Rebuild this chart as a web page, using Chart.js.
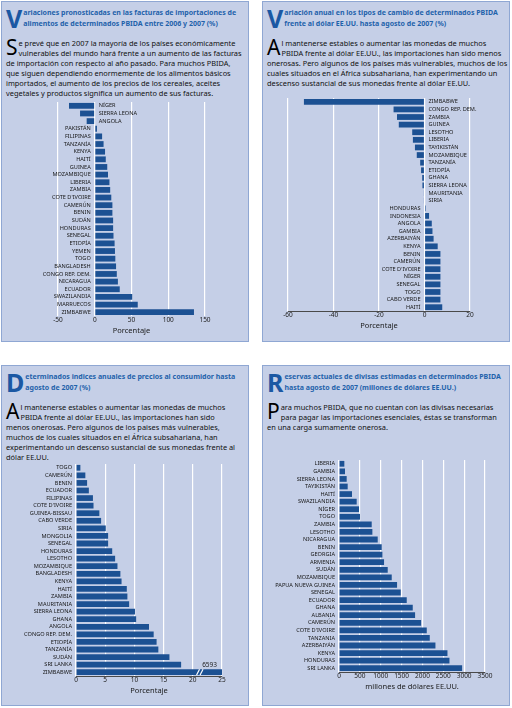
<!DOCTYPE html>
<html lang="es">
<head>
<meta charset="utf-8">
<script src="https://cdn.jsdelivr.net/npm/chart.js@4.4.0/dist/chart.umd.min.js"></script>
<style>
body{margin:0;width:512px;height:708px;background:#fff;position:relative;overflow:hidden;font-family:'Noto Sans',sans-serif}
.panel{position:absolute;width:248px;height:341px;background:#c5cfe7;border:1px solid #8fa7d3;box-sizing:border-box}
.ttl{position:absolute;left:4px;top:5px;color:#1f62ab;font-weight:bold;font-size:7px;line-height:11px;white-space:nowrap}
.ttl .dc{float:left;font-size:25px;line-height:21px;height:22px;color:#1b58a3;margin-right:1px;margin-top:1px}
.txt{position:absolute;left:4px;top:36px;color:#111;font-size:7.4px;line-height:10px;white-space:nowrap}
.txt .dc{float:left;font-size:21px;line-height:18px;height:19px;margin-right:1px;color:#000}
canvas{position:absolute}
</style>
</head>
<body>

<div class="panel" style="left:1px;top:1px">
  <div class="ttl"><span class="dc">V</span>ariaciones pronosticadas en las facturas de importaciones de<br>alimentos de determinados PBIDA entre 2006 y 2007 (%)</div>
  <div class="txt"><span class="dc">S</span>e prevé que en 2007 la mayoría de los países económicamente<br>vulnerables del mundo hará frente a un aumento de las facturas<br>de importación con respecto al año pasado. Para muchos PBIDA,<br>que siguen dependiendo enormemente de los alimentos básicos<br>importados, el aumento de los precios de los cereales, aceites<br>vegetales y productos significa un aumento de sus facturas.</div>
</div>

<div class="panel" style="left:262px;top:1px">
  <div class="ttl"><span class="dc">V</span>ariación anual en los tipos de cambio de determinados PBIDA<br>frente al dólar EE.UU. hasta agosto de 2007 (%)</div>
  <div class="txt"><span class="dc">A</span>l mantenerse estables o aumentar las monedas de muchos<br>PBIDA frente al dólar EE.UU., las importaciones han sido menos<br>onerosas. Pero algunos de los países más vulnerables, muchos de los<br>cuales situados en el África subsahariana, han experimentando un<br>descenso sustancial de sus monedas frente al dólar EE.UU.</div>
</div>

<div class="panel" style="left:1px;top:365px">
  <div class="ttl"><span class="dc">D</span>eterminados indices anuales de precios al consumidor hasta<br>agosto de 2007 (%)</div>
  <div class="txt"><span class="dc">A</span>l mantenerse estables o aumentar las monedas de muchos<br>PBIDA frente al dólar EE.UU., las importaciones han sido<br>menos onerosas. Pero algunos de los paises más vulnerables,<br>muchos de los cuales situados en el África subsahariana, han<br>experimentando un descenso sustancial de sus monedas frente al<br>dólar EE.UU.</div>
</div>

<div class="panel" style="left:262px;top:365px">
  <div class="ttl"><span class="dc">R</span>eservas actuales de divisas estimadas en determinados PBIDA<br>hasta agosto de 2007 (millones de dólares EE.UU.)</div>
  <div class="txt"><span class="dc">P</span>ara muchos PBIDA, que no cuentan con las divisas necesarias<br>para pagar las importaciones esenciales, éstas se transforman<br>en una carga sumamente onerosa.</div>
</div>

<canvas id="c1" width="214" height="241" style="left:4px;top:94px"></canvas>
<canvas id="c2" width="212" height="250" style="left:278px;top:90px"></canvas>
<canvas id="c3" width="228" height="237" style="left:4px;top:458px"></canvas>
<canvas id="c4" width="235" height="240" style="left:265px;top:454px"></canvas>

<script>
// facturas de importaciones de alimentos, variacion 2006-2007 (%)
const foodCountries = ['NÍGER', 'SIERRA LEONA', 'ANGOLA', 'PAKISTÁN', 'FILIPINAS', 'TANZANÍA', 'KENYA', 'HAITÍ', 'GUINEA', 'MOZAMBIQUE', 'LIBERIA', 'ZAMBIA', "COTE D'IVOIRE", 'CAMERÚN', 'BENIN', 'SUDÁN', 'HONDURAS', 'SENEGAL', 'ETIOPÍA', 'YEMEN', 'TOGO', 'BANGLADESH', 'CONGO REP. DEM.', 'NICARAGUA', 'ECUADOR', 'SWAZILANDIA', 'MARRUECOS', 'ZIMBABWE'];
const foodChange = [-35, -20, -11, 3, 10, 12, 14, 15, 17, 18, 20, 21, 22.5, 24, 24, 25, 25, 25.5, 27, 27.5, 28, 29, 30, 31.5, 34, 51, 58.5, 135];

// tipo de cambio frente al dolar (%)
const fxCountries = ['ZIMBABWE', 'CONGO REP. DEM.', 'ZAMBIA', 'GUINEA', 'LESOTHO', 'LIBERIA', 'TAYIKISTÁN', 'MOZAMBIQUE', 'TANZANÍA', 'ETIOPÍA', 'GHANA', 'SIERRA LEONA', 'MAURITANIA', 'SIRIA', 'HONDURAS', 'INDONESIA', 'ANGOLA', 'GAMBIA', 'AZERBAIYÁN', 'KENYA', 'BENIN', 'CAMERÚN', "COTE D'IVOIRE", 'NÍGER', 'SENEGAL', 'TOGO', 'CABO VERDE', 'HAITÍ'];
const fxChange = [-53, -13.6, -12.1, -11.3, -5.4, -5.1, -4.2, -3.4, -1.9, -1.5, -1.0, -0.9, -0.3, -0.3, 0.5, 2, 3.2, 3.5, 4, 5.8, 7, 7, 7, 7, 7, 7, 7, 7.8];

// indices de precios al consumidor (%)
const cpiCountries = ['TOGO', 'CAMERÚN', 'BENIN', 'ECUADOR', 'FILIPINAS', "COTE D'IVOIRE", 'GUINEA-BISSAU', 'CABO VERDE', 'SIRIA', 'MONGOLIA', 'SENEGAL', 'HONDURAS', 'LESOTHO', 'MOZAMBIQUE', 'BANGLADESH', 'KENYA', 'HAITÍ', 'ZAMBIA', 'MAURITANIA', 'SIERRA LEONA', 'GHANA', 'ANGOLA', 'CONGO REP. DEM.', 'ETIOPÍA', 'TANZANÍA', 'SUDÁN', 'SRI LANKA', 'ZIMBABWE'];
const cpiValues = [0.75, 1.6, 1.9, 2.2, 2.9, 3.0, 4.0, 4.3, 5.1, 5.5, 5.5, 6.2, 6.7, 7.1, 7.6, 7.8, 8.7, 8.8, 9.1, 10.1, 10.3, 12.5, 13.3, 13.8, 14.1, 16.0, 18.0, 6593];

// reservas de divisas (millones de dolares EE.UU.)
const resCountries = ['LIBERIA', 'GAMBIA', 'SIERRA LEONA', 'TAYIKISTÁN', 'HAITÍ', 'SWAZILANDIA', 'NÍGER', 'TOGO', 'ZAMBIA', 'LESOTHO', 'NICARAGUA', 'BENIN', 'GEORGIA', 'ARMENIA', 'SUDÁN', 'MOZAMBIQUE', 'PAPUA NUEVA GUINEA', 'SENEGAL', 'ECUADOR', 'GHANA', 'ALBANIA', 'CAMERÚN', "COTE D'IVOIRE", 'TANZANIA', 'AZERBAIYÁN', 'KENYA', 'HONDURAS', 'SRI LANKA'];
const resValues = [128, 144, 184, 208, 312, 424, 480, 504, 784, 800, 928, 1024, 1040, 1080, 1168, 1264, 1392, 1480, 1624, 1768, 1824, 1968, 2104, 2176, 2312, 2600, 2648, 2952];

const BAR = '#1c5193';
const FONT = "'Noto Sans', sans-serif";

// nombres de pais junto a la linea del cero
const countryLabels = {
    id: 'countryLabels',
    afterDatasetsDraw(chart) {
        const ctx = chart.ctx;
        const x0 = chart.scales.x.getPixelForValue(0);
        const vals = chart.data.datasets[0].data;
        ctx.save();
        ctx.font = '5.6px ' + FONT;
        ctx.fillStyle = '#161616';
        ctx.textBaseline = 'middle';
        chart.getDatasetMeta(0).data.forEach((bar, i) => {
            if (vals[i] < 0) {
                ctx.textAlign = 'left';
                ctx.fillText(chart.data.labels[i], x0 + 4, bar.y);
            } else {
                ctx.textAlign = 'right';
                ctx.fillText(chart.data.labels[i], x0 - 4, bar.y);
            }
        });
        ctx.restore();
    }
};

// barra cortada de Zimbabwe
const breakMark = {
    id: 'breakMark',
    afterDatasetsDraw(chart) {
        const vals = chart.data.datasets[0].data;
        const i = vals.length - 1;
        const bar = chart.getDatasetMeta(0).data[i];
        const xs = chart.scales.x;
        const ctx = chart.ctx;
        const h = bar.height / 2;
        ctx.save();
        ctx.strokeStyle = '#ffffff';
        ctx.lineWidth = 1.2;
        [20.9, 21.5].forEach(v => {
            const x = xs.getPixelForValue(v);
            ctx.beginPath();
            ctx.moveTo(x - 1.5, bar.y + h);
            ctx.lineTo(x + 1.5, bar.y - h);
            ctx.stroke();
        });
        ctx.fillStyle = '#222';
        ctx.font = '6.5px ' + FONT;
        ctx.textAlign = 'right';
        ctx.textBaseline = 'bottom';
        ctx.fillText(String(vals[i]), xs.getPixelForValue(25) - 5, bar.y - h - 0.5);
        ctx.restore();
    }
};

function barChart(id, labels, values, xMin, xMax, step, title, pad, axisLine, extra) {
    return new Chart(document.getElementById(id), {
        type: 'bar',
        data: {
            labels: labels,
            datasets: [{ data: values, backgroundColor: BAR, barPercentage: 0.8, categoryPercentage: 0.95 }]
        },
        options: {
            indexAxis: 'y',
            responsive: false,
            animation: false,
            layout: { padding: pad },
            plugins: { legend: { display: false }, tooltip: { enabled: false } },
            scales: {
                x: {
                    min: xMin,
                    max: xMax,
                    ticks: { stepSize: step, color: '#222', font: { size: 6.5, family: FONT, lineHeight: 1 }, padding: 1, maxRotation: 0, minRotation: 0, autoSkip: false, callback: v => v },
                    grid: { color: '#ffffff', lineWidth: 1.2, drawTicks: false },
                    border: { display: axisLine, color: '#4a4a4a', width: 1 },
                    title: { display: true, text: title, color: '#1a1a1a', font: { size: 7.5, family: FONT, lineHeight: 1 }, padding: { top: 3, bottom: 0 } }
                },
                y: { display: false }
            }
        },
        plugins: [countryLabels].concat(extra || [])
    });
}

barChart('c1', foodCountries, foodChange, -50, 150, 50, 'Porcentaje', { left: 54, right: 13, top: 8, bottom: 0 }, false);
barChart('c2', fxCountries, fxChange, -60, 20, 20, 'Porcentaje', { left: 10, right: 20, top: 8, bottom: 10 }, true);
barChart('c3', cpiCountries, cpiValues, 0, 25, 5, 'Porcentaje', { left: 72, right: 10, top: 6, bottom: 0 }, true, [breakMark]);
barChart('c4', resCountries, resValues, 0, 3500, 500, 'millones de dólares EE.UU.', { left: 74, right: 15, top: 6, bottom: 3 }, true);
</script>
</body>
</html>
